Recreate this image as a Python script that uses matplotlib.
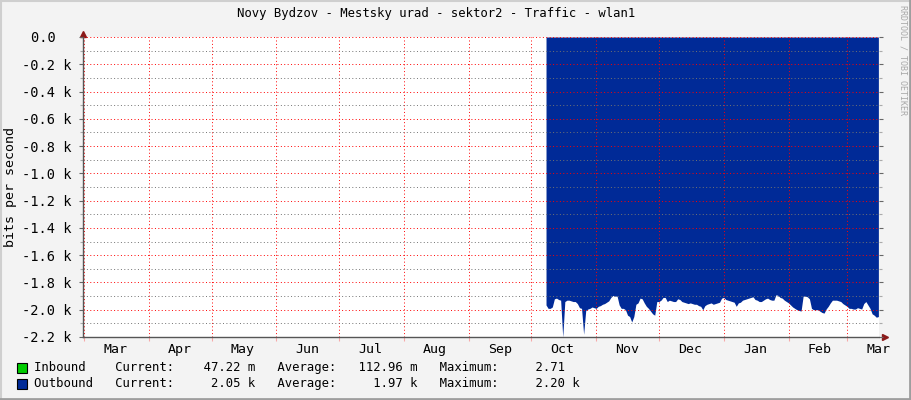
import matplotlib
matplotlib.use("Agg")
import matplotlib.pyplot as plt
import matplotlib.dates as mdates
from matplotlib.lines import Line2D
from matplotlib.patches import Rectangle
from matplotlib.ticker import MultipleLocator, FuncFormatter, NullFormatter
import numpy as np
import pandas as pd

# RRDtool style traffic graph (one year), outbound drawn below zero

title = "Novy Bydzov - Mestsky urad - sektor2 - Traffic - wlan1"
y_label = "bits per second"
first_day = "2022-10-08"
x_start = "2022-02-28 12:00"
x_end = "2023-03-16 07:00"

# outbound traffic, kbit/s, one value per day
outbound = [
    1.965, 1.99, 1.99, 1.98, 1.92, 1.915, 1.925, 1.93, 2.20, 1.94,
    1.93, 1.93, 1.935, 1.94, 1.94, 1.955, 1.985, 1.99, 2.18, 2.005,
    1.995, 1.99, 1.98, 1.985, 1.99, 1.975, 1.97, 1.96, 1.955, 1.945,
    1.935, 1.91, 1.895, 1.90, 1.90, 1.965, 1.99, 1.99, 2.00, 2.04,
    2.05, 2.09, 2.05, 1.96, 1.95, 1.915, 1.92, 1.95, 1.975, 1.99,
    2.01, 2.03, 2.04, 1.94,
    1.94, 1.93, 1.91, 1.91, 1.94, 1.93, 1.935, 1.94, 1.94, 1.92,
    1.925, 1.94, 1.945, 1.95, 1.955, 1.95, 1.955, 1.96, 1.96, 1.97,
    1.975, 2.00, 1.97, 1.96, 1.955, 1.95, 1.96, 1.955, 1.95, 1.945,
    1.915, 1.91, 1.925, 1.93, 1.935, 1.94, 1.945, 1.975, 1.95, 1.945,
    1.93, 1.925, 1.92, 1.915, 1.91, 1.905, 1.925, 1.93, 1.94, 1.94,
    1.93, 1.92, 1.915, 1.925, 1.93, 1.93,
    1.89, 1.895, 1.91, 1.915, 1.93, 1.94, 1.95, 1.965, 1.98, 1.99,
    2.00, 2.005, 2.01, 1.90, 1.90, 1.905, 1.92, 1.99, 2.00, 2.00,
    2.00, 2.01, 2.02, 2.025, 1.995, 1.975, 1.95, 1.93, 1.93, 1.93,
    1.935, 1.94, 1.955, 1.965, 1.975, 1.99, 1.99, 1.995, 1.995, 1.985,
    1.99, 1.995, 1.955, 1.94, 1.965, 1.99, 2.03, 2.04, 2.055, 2.05,
]

# legend statistics (current, average, maximum) in bits per second
inbound_stats = [47.22e-3, 112.96e-3, 2.71]
outbound_stats = [2.05e3, 1.97e3, 2.20e3]

BG = "#f3f3f3"
BLUE = "#002a97"
GREEN = "#00cc00"
MONO = "DejaVu Sans Mono"

W, H = 911, 400
fig = plt.figure(figsize=(W / 100, H / 100), dpi=100, facecolor=BG)
ax = fig.add_axes([83 / W, 1 - 337 / H, 796 / W, 300 / H])
ax.set_facecolor("white")

days = pd.date_range(first_day, periods=len(outbound), freq="D")
vals = -np.array(outbound) * 1000
ax.fill_between(days, 0, vals, color=BLUE, lw=0, zorder=1)

ax.set_xlim(pd.Timestamp(x_start), pd.Timestamp(x_end))
ax.set_ylim(-2200, 0)

# y axis
ax.yaxis.set_major_locator(MultipleLocator(200))
ax.yaxis.set_minor_locator(MultipleLocator(100))


def kfmt(v, pos):
    if abs(v) < 1e-6:
        return "0.0  "
    return "%.1f k" % (v / 1000)


ax.yaxis.set_major_formatter(FuncFormatter(kfmt))

# x axis: grid on month start, label in the middle of the month
ax.xaxis.set_major_locator(mdates.MonthLocator())
ax.xaxis.set_major_formatter(NullFormatter())
ax.xaxis.set_minor_locator(mdates.MonthLocator(bymonthday=16))
ax.xaxis.set_minor_formatter(mdates.DateFormatter("%b"))

ax.set_axisbelow(False)
ax.grid(which="major", axis="both", color=(1, 0, 0, 0.2), ls=(0, (1, 2.5)), lw=0.7)
ax.grid(which="minor", axis="y", color=(0.45, 0.45, 0.45, 0.3), ls=(0, (1, 2.5)), lw=0.7)

ax.tick_params(axis="y", which="major", length=3, width=0.8, color="#666666",
               labelsize=9.8, pad=5, right=True, direction="out")
ax.tick_params(axis="y", which="minor", length=2, width=0.8, color="#aaaaaa",
               right=True, direction="out")
ax.tick_params(axis="x", which="major", length=3, width=0.8, color=(1, 0, 0, 0.3),
               direction="out")
ax.tick_params(axis="x", which="minor", length=0, labelsize=9.5, pad=4)
for lab in ax.get_xticklabels(which="both") + ax.get_yticklabels():
    lab.set_fontfamily(MONO)

for side in ["top", "right"]:
    ax.spines[side].set_visible(False)
for side in ["left", "bottom"]:
    ax.spines[side].set_color("#555555")
    ax.spines[side].set_linewidth(1)
    ax.spines[side].set_zorder(3)

# arrow heads on the axes
ax.plot([0], [1.01], marker="^", ms=4, color="#8b1a1a", transform=ax.transAxes, clip_on=False)
ax.plot([1.007], [0], marker=">", ms=4, color="#8b1a1a", transform=ax.transAxes, clip_on=False)

fig.text(11 / W, 1 - 187 / H, y_label, rotation=90, ha="center", va="center",
         fontfamily=MONO, fontsize=9.6)
fig.text(436 / W, 1 - 13 / H, title, ha="center", va="center",
         fontfamily=MONO, fontsize=8.8)
fig.text(903 / W, 1 - 5 / H, "RRDTOOL / TOBI OETIKER", rotation=-90,
         ha="center", va="top", fontfamily=MONO, fontsize=6, color="#a8a8a8")


def si(v):
    if v == 0:
        return "0.00  "
    if abs(v) >= 1000:
        return "%.2f k" % (v / 1000)
    if abs(v) < 1:
        return "%.2f m" % (v * 1000)
    return "%.2f  " % v


rows = [("Inbound", GREEN, inbound_stats, 368), ("Outbound", BLUE, outbound_stats, 384)]
for name, col, st, yy in rows:
    fig.patches.append(Rectangle((17 / W, 1 - (yy + 5) / H), 10 / W, 10 / H,
                                 transform=fig.transFigure, facecolor=col,
                                 edgecolor="black", lw=0.8))
    line = "%-11sCurrent:%11s   Average:%11s   Maximum:%11s" % (name, si(st[0]), si(st[1]), si(st[2]))
    fig.text(34 / W, 1 - yy / H, line, ha="left", va="center",
             fontfamily=MONO, fontsize=8.8)

# image frame
fig.add_artist(Line2D([0, 1], [1 - 0.5 / H, 1 - 0.5 / H], color="#cfcfcf", lw=1.5))
fig.add_artist(Line2D([0.5 / W, 0.5 / W], [0, 1], color="#cfcfcf", lw=1.5))
fig.add_artist(Line2D([0, 1], [1.5 / H, 1.5 / H], color="#9e9e9e", lw=2))
fig.add_artist(Line2D([1 - 1.5 / W, 1 - 1.5 / W], [0, 1], color="#9e9e9e", lw=2))

fig.savefig("out.png", dpi=100, facecolor=BG)
